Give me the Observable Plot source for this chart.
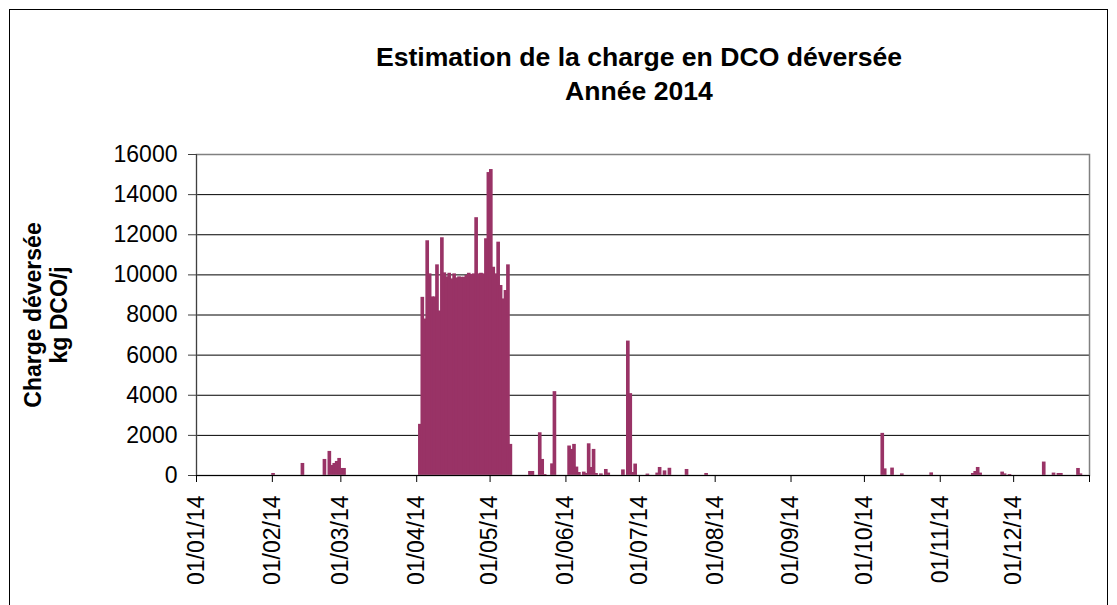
<!DOCTYPE html>
<html><head><meta charset="utf-8">
<script src="https://cdn.jsdelivr.net/npm/d3@7"></script>
<script src="https://cdn.jsdelivr.net/npm/@observablehq/plot@0.6"></script>
<style>
body{margin:0;background:#fff;overflow:hidden;font-family:"Liberation Sans",Arial,sans-serif;}
#wrap{position:relative;width:1117px;height:605px;overflow:hidden;background:#fff;}
#frame{position:absolute;left:9px;top:9px;width:1099px;height:660px;border:1px solid #000;box-sizing:border-box;}
#title{position:absolute;left:639px;top:40px;transform:translateX(-50%);text-align:center;font-weight:bold;font-size:26.6px;line-height:34px;white-space:nowrap;color:#000;}
#chart{position:absolute;left:0;top:0;}
</style></head><body>
<div id="wrap"><div id="frame"></div><div id="chart"></div><div id="title">Estimation de la charge en DCO déversée<br>Année 2014</div></div>
<script>
// Daily COD load discharged (kg DCO/j); days not listed are 0
const dates = [
  "2014-02-01","2014-02-13","2014-02-22","2014-02-24","2014-02-25","2014-02-26","2014-02-27","2014-02-28","2014-03-01","2014-03-02",
  "2014-04-02","2014-04-03","2014-04-04","2014-04-05","2014-04-06","2014-04-07","2014-04-08","2014-04-09","2014-04-10","2014-04-11",
  "2014-04-12","2014-04-13","2014-04-14","2014-04-15","2014-04-16","2014-04-17","2014-04-18","2014-04-19","2014-04-20","2014-04-21",
  "2014-04-22","2014-04-23","2014-04-24","2014-04-25","2014-04-26","2014-04-27","2014-04-28","2014-04-29","2014-04-30",
  "2014-05-01","2014-05-02","2014-05-03","2014-05-04","2014-05-05","2014-05-06","2014-05-07","2014-05-08","2014-05-09",
  "2014-05-17","2014-05-18","2014-05-21","2014-05-22","2014-05-23","2014-05-26","2014-05-27",
  "2014-06-02","2014-06-03","2014-06-04","2014-06-05","2014-06-06","2014-06-08","2014-06-09","2014-06-10","2014-06-11","2014-06-12",
  "2014-06-13","2014-06-15","2014-06-17","2014-06-18","2014-06-24","2014-06-26","2014-06-27","2014-06-28","2014-06-29",
  "2014-07-04","2014-07-08","2014-07-09","2014-07-11","2014-07-13","2014-07-20","2014-07-28",
  "2014-10-08","2014-10-09","2014-10-12","2014-10-16","2014-10-28",
  "2014-11-14","2014-11-15","2014-11-16","2014-11-17","2014-11-26","2014-11-27","2014-11-29",
  "2014-12-13","2014-12-17","2014-12-19","2014-12-20","2014-12-27","2014-12-28"
];
const loads = [
  100,600,800,1200,500,600,700,850,350,350,
  2550,8880,7800,11700,10050,8900,8900,10500,8200,11850,
  10100,9900,10080,9800,10050,9850,9900,9880,9880,9970,
  10080,10020,10050,12850,10050,10080,10050,11800,15100,
  15250,10380,10050,11630,9470,8800,9220,10500,1550,
  200,200,2130,800,50,580,4180,
  1470,1300,1550,420,150,170,100,1580,400,1300,
  100,80,300,120,280,6700,4080,150,570,
  70,120,400,230,360,300,100,
  2100,330,370,80,130,
  100,200,400,120,170,80,50,
  670,120,100,100,350,80
];
const yTicks = [0,2000,4000,6000,8000,10000,12000,14000,16000];
const xTickDates = ["2014-01-01","2014-02-01","2014-03-01","2014-04-01","2014-05-01","2014-06-01","2014-07-01","2014-08-01","2014-09-01","2014-10-01","2014-11-01","2014-12-01","2015-01-01"];
const yLabel = "Charge déversée\nkg DCO/j";

const data = dates.map((d, i) => {
  const t = new Date(d);
  return {date: t, end: d3.utcDay.offset(t, 1), load: loads[i]};
});
const xTicks = xTickDates.map(d => new Date(d));
const fmt = d3.utcFormat("%d/%m/%y");
const endTick = new Date("2015-01-01").getTime();

const plot = Plot.plot({
  width: 1117, height: 605,
  marginTop: 154, marginBottom: 130, marginLeft: 196, marginRight: 28,
  style: {fontFamily: "'Liberation Sans', Arial, sans-serif", fontSize: "23px", color: "#000", background: "transparent"},
  x: {type: "utc", domain: [new Date("2014-01-01"), new Date("2015-01-01")]},
  y: {domain: [0, 16000]},
  marks: [
    Plot.gridY(yTicks, {stroke: "#000", strokeOpacity: 1}),
    Plot.rectY(data, {x1: "date", x2: "end", y: "load", fill: "#993366", insetLeft: -0.6, insetRight: -0.6}),
    Plot.frame({stroke: "#808080", strokeWidth: 1.5}),
    Plot.ruleY([0], {stroke: "#000"}),
    Plot.ruleX([new Date("2014-01-01")], {stroke: "#404040"}),
    Plot.axisY(yTicks, {tickSize: 8, tickPadding: 11, tickFormat: d => String(d), label: null, fontSize: 23, stroke: "#404040"}),
    Plot.axisX(xTicks, {tickSize: 7, tickPadding: 13, tickRotate: -90, tickFormat: d => d.getTime() === endTick ? "" : fmt(d), label: null, fontSize: 23, stroke: "#000"}),
    Plot.text([yLabel], {frameAnchor: "left", textAnchor: "middle", dx: -151, rotate: -90, fontWeight: "bold", fontSize: 23, lineHeight: 1.15, fill: "#000"})
  ]
});
document.getElementById("chart").appendChild(plot);
</script>
</body></html>
